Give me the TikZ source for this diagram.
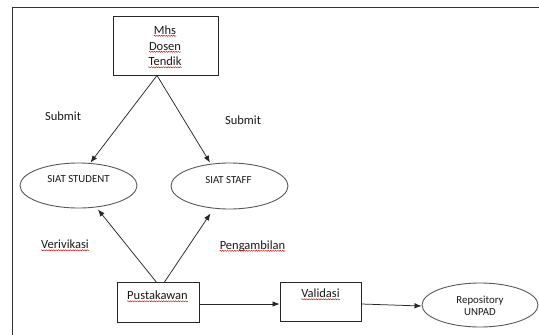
\documentclass[tikz,border=0pt]{standalone}
\usepackage{fontspec}
\setmainfont{Carlito}
\usetikzlibrary{arrows.meta,shapes.geometric,decorations.pathmorphing,calc}
\begin{document}
\begin{tikzpicture}[x=1pt,y=-1pt,
  frame/.style={draw=black!80, line width=1pt},
  box/.style={draw=black!85, line width=0.9pt, inner sep=0pt},
  oval/.style={ellipse, draw=black!65, line width=0.9pt, inner sep=0pt},
  arr/.style={-{Latex[length=7pt,width=5.5pt]}, draw=black!85, line width=0.75pt},
  txt/.style={inner sep=0pt, anchor=base, text=black!90, font=\fontsize{12.5}{15}\selectfont},
  smalltxt/.style={inner sep=0pt, anchor=base, text=black!90, font=\fontsize{10.8}{13}\selectfont},
  squig/.style={draw=red!80!black, line width=0.4pt, decorate,
    decoration={snake, amplitude=0.6pt, segment length=2.4pt}},
  spell/.style={append after command={([yshift=-1.8pt]\tikzlastnode.base west) edge[squig] ([yshift=-1.8pt]\tikzlastnode.base east)}}]
\useasboundingbox (0,0) rectangle (539,335);
% frame
\draw[frame] (12,335) -- (12,7) -- (539,7);

% source box
\node[box, minimum width=105pt, minimum height=59pt] (src) at (165.5,45.5) {};
\node[txt, spell] (l1) at (165,34) {Mhs};
\node[txt, spell] (l2) at (165,50) {Dosen};
\node[txt, spell] (l3) at (165,65.5) {Tendik};

% ellipses
\node[oval, minimum width=117pt, minimum height=45pt] (stu) at (78.5,185.5) {};
\node[smalltxt] (stut) at (78.5,182.5) {SIAT STUDENT};
\node[oval, minimum width=117pt, minimum height=46pt] (staff) at (229.5,186) {};
\node[smalltxt] (stafft) at (228.5,183.5) {SIAT STAFF};

% bottom row
\node[box, minimum width=82pt, minimum height=39.5pt] (pust) at (158,302.5) {};
\node[txt, spell] (pustt) at (157.5,299.5) {Pustakawan};
\node[box, minimum width=81pt, minimum height=39pt] (valid) at (320.5,301.5) {};
\node[txt, spell] (validt) at (320.5,297.5) {Validasi};
\node[oval, minimum width=116pt, minimum height=44pt] (repo) at (480,305) {};
\node[smalltxt] (repot1) at (480,303) {Repository};
\node[smalltxt] (repot2) at (480,315) {UNPAD};

% labels
\node[txt] (sub1) at (63,120) {Submit};
\node[txt] (sub2) at (243,124) {Submit};
\node[txt, spell] (ver) at (65,248.5) {Verivikasi};
\node[txt, spell] (peng) at (252.5,249) {Pengambilan};

% connectors
\coordinate (fork) at ($(src.south)+(-8.5,0)$);
\draw[arr] (fork) -- ([xshift=12pt]stu.north);
\draw[arr] (fork) -- ([xshift=-19.5pt]staff.north);
\draw[arr] ([xshift=-1.5pt]pust.north) -- ([xshift=19.5pt,yshift=-1pt]stu.south);
\draw[arr] ([xshift=6.3pt]pust.north) -- ([xshift=-19pt,yshift=-4pt]staff.south);
\draw[arr] ([yshift=-1.5pt]pust.east) -- ([yshift=-2.5pt]valid.west);
\draw[arr] ([yshift=-2.5pt]valid.east) -- ([yshift=-1pt]repo.west);
\end{tikzpicture}
\end{document}
